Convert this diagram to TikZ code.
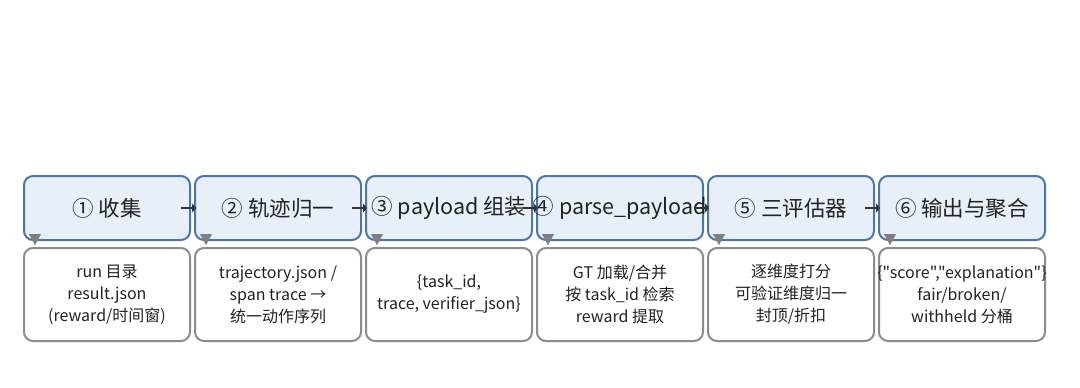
\documentclass[tikz,border=0pt]{standalone}
\usepackage{fontspec}
\setmainfont{Noto Sans CJK SC}[Ligatures=TeXOff]
\usetikzlibrary{arrows.meta}
\definecolor{topfill}{HTML}{E7EFF8}
\definecolor{topdraw}{HTML}{4A76AC}
\definecolor{botdraw}{HTML}{8C8C8C}
\definecolor{tipgray}{HTML}{7F7F7F}
\definecolor{txt}{HTML}{222222}
\newcommand{\zw}[1]{\makebox[0pt][c]{#1}}
\tikzset{
  topbox/.style={draw=topdraw, fill=topfill, line width=2pt, rounded corners=9pt,
    minimum width=166pt, minimum height=64pt, inner sep=0pt, text=txt,
    font=\fontsize{21.5}{24}\selectfont},
  botbox/.style={draw=botdraw, fill=white, line width=2pt, rounded corners=9pt,
    minimum width=166pt, minimum height=93pt, inner sep=0pt, text=txt, align=center,
    font=\fontsize{16}{22}\selectfont},
  flow/.style={draw=black!80, line width=2.2pt, -{Triangle[length=4pt,width=9pt]}},
  down/.style={draw=tipgray, line width=0.1pt, -{Triangle[length=11pt,width=12pt]}, tipgray}
}
\begin{document}
\begin{tikzpicture}[x=1pt,y=-1pt]
\useasboundingbox (0,0) rectangle (1080,388);
\fill[white] (0,0) rectangle (1080,388);
% bottom boxes
\node[botbox] (b1) at (107,294.5) {run 目录\\result.json\\(reward/时间窗)};
\node[botbox] (b2) at (278,294.5) {trajectory.json /\\span trace →\\统一动作序列};
\node[botbox] (b3) at (449,294.5) {\{task\_id,\\trace, verifier\_json\}};
\node[botbox] (b4) at (620,294.5) {GT 加载/合并\\按 task\_id 检索\\reward 提取};
\node[botbox] (b5) at (791,294.5) {逐维度打分\\可验证维度归一\\封顶/折扣};
\node[botbox] (b6) at (962,294.5) {\zw{\{"score","explanation"\}}\\fair/broken/\\withheld 分桶};
% top boxes
\node[topbox] (t1) at (107,208) {\zw{① 收集}};
\node[topbox] (t2) at (278,208) {\zw{② 轨迹归一}};
\node[topbox] (t3) at (449,208) {\zw{③ payload 组装}};
\node[topbox] (t4) at (620,208) {\zw{④ parse\_payload}};
\node[topbox] (t5) at (791,208) {\zw{⑤ 三评估器}};
\node[topbox] (t6) at (962,208) {\zw{⑥ 输出与聚合}};
% flow arrows
\foreach \a/\b in {t1/t2,t2/t3,t3/t4,t4/t5,t5/t6}{
  \draw[flow] ([xshift=-10pt]\a.east) -- ([xshift=2pt]\b.west);
}
% down tips
\foreach \i in {1,...,6}{
  \draw[down] ([xshift=12pt,yshift=6pt]t\i.south west) -- ([xshift=12pt,yshift=2pt]b\i.north west);
}
\end{tikzpicture}
\end{document}
